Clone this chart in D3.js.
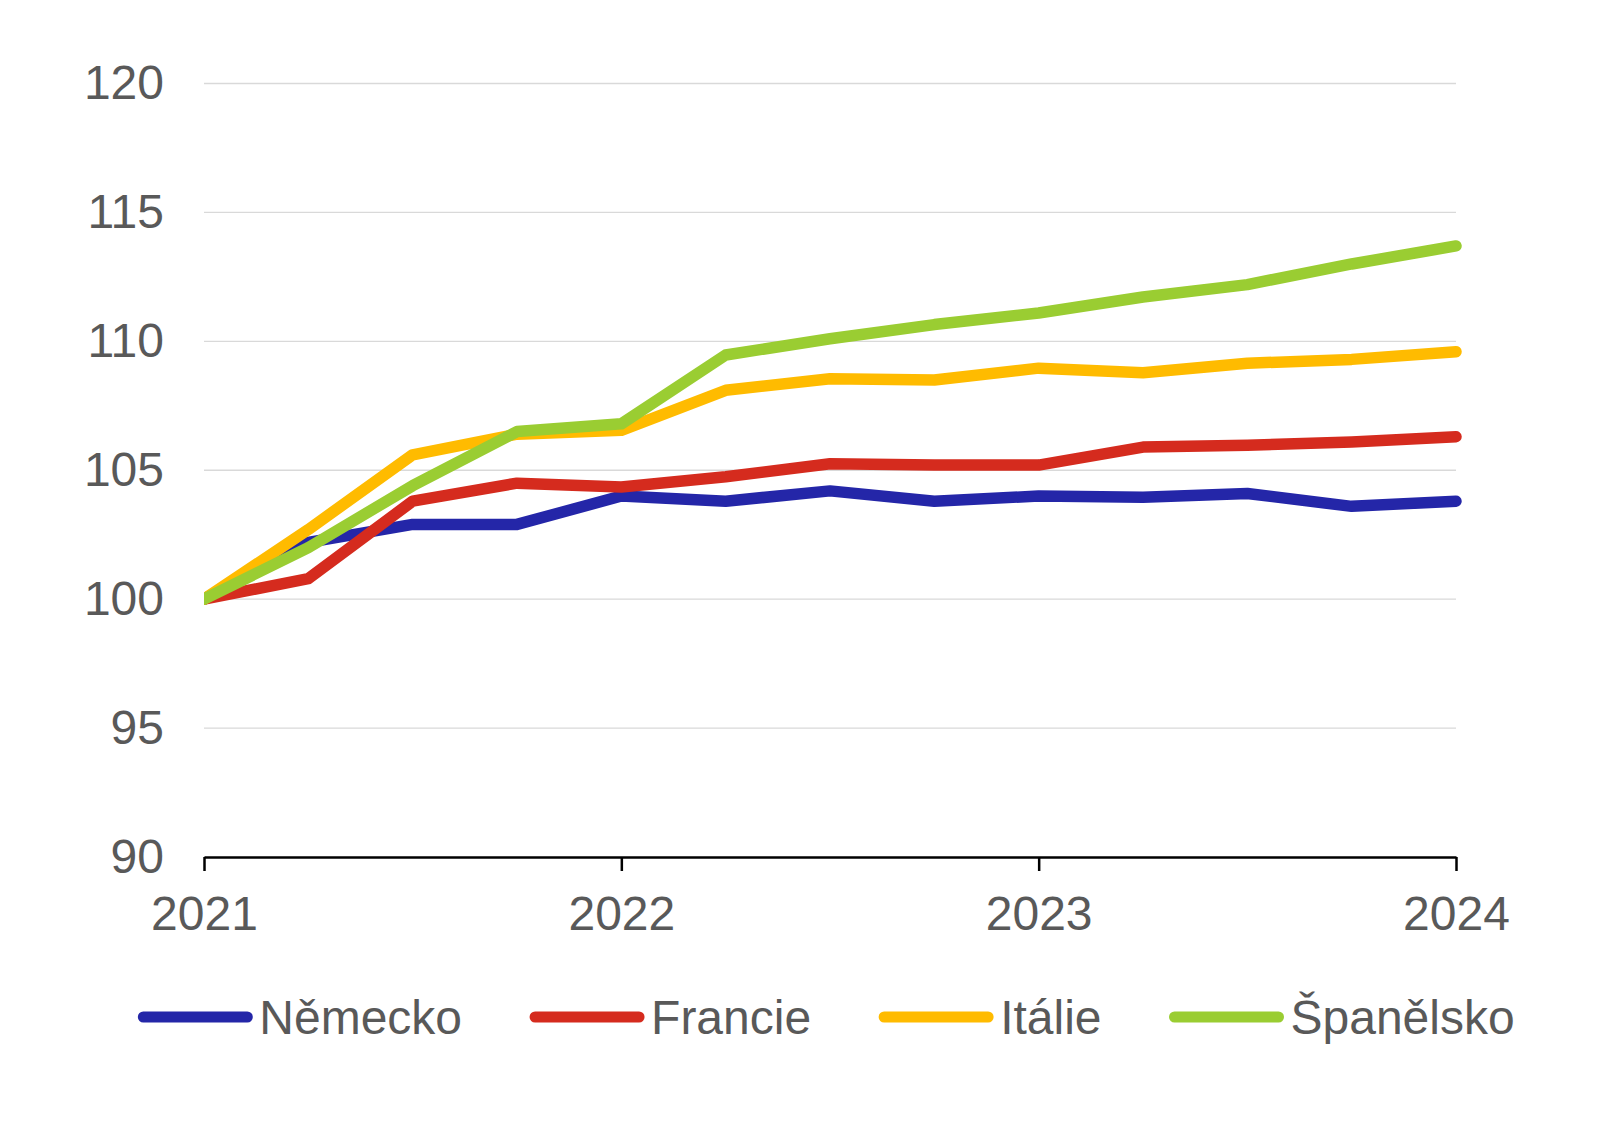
<!DOCTYPE html>
<html>
<head>
<meta charset="utf-8">
<script src="https://cdn.jsdelivr.net/npm/d3@7"></script>
<style>
  body { margin: 0; background: #fff; }
  text { font-family: "Liberation Sans", Arial, sans-serif; fill: #595959; }
</style>
</head>
<body>
<div id="chart"></div>
<script>
// quarterly index, 2021 Q1 = 100
var quarters = ["2021Q1","2021Q2","2021Q3","2021Q4","2022Q1","2022Q2","2022Q3","2022Q4",
                "2023Q1","2023Q2","2023Q3","2023Q4","2024Q1"];
var yearTicks = ["2021", "2022", "2023", "2024"];
var yTicks = [90, 95, 100, 105, 110, 115, 120];

var nemecko   = [100, 102.2, 102.9, 102.9, 104.0, 103.8, 104.2, 103.8, 104.0, 103.95, 104.1, 103.6, 103.8];
var francie   = [100, 100.8, 103.8, 104.5, 104.35, 104.75, 105.25, 105.2, 105.2, 105.9, 105.97, 106.1, 106.3];
var italie    = [100, 102.7, 105.6, 106.4, 106.55, 108.1, 108.55, 108.5, 108.96, 108.78, 109.15, 109.3, 109.6];
var spanelsko = [100, 102.0, 104.4, 106.5, 106.8, 109.47, 110.1, 110.65, 111.1, 111.72, 112.2, 113.0, 113.7];

var seriesNames = ["Německo", "Francie", "Itálie", "Španělsko"];
var seriesValues = [nemecko, francie, italie, spanelsko];
var colors = ["#2426A8", "#D52B1E", "#FFBB00", "#9ACD32"];

var w = 1617, h = 1125;
var margin = { top: 83.5, right: 161, bottom: 268, left: 204 };
var innerW = w - margin.left - margin.right;
var innerH = h - margin.top - margin.bottom;

var svg = d3.select("#chart")
    .append("svg")
    .attr("width", w)
    .attr("height", h);

// lines start flat at the left edge of the plot
svg.append("defs").append("clipPath")
    .attr("id", "plotClip")
    .append("rect")
    .attr("x", 0).attr("y", -40)
    .attr("width", innerW + 20).attr("height", innerH + 80);

var g = svg.append("g")
    .attr("transform", "translate(" + margin.left + "," + margin.top + ")");

var xScale = d3.scalePoint()
    .domain(quarters)
    .range([0, innerW]);

var yScale = d3.scaleLinear()
    .domain([90, 120])
    .range([innerH, 0]);

// gridlines
g.selectAll(".grid")
    .data(yTicks.filter(d => d > 90))
    .enter()
    .append("line")
    .attr("x1", 0)
    .attr("x2", innerW)
    .attr("y1", d => yScale(d))
    .attr("y2", d => yScale(d))
    .attr("stroke", "#d9d9d9")
    .attr("stroke-width", 1.3);

// y labels
var yAxis = d3.axisLeft(yScale).tickValues(yTicks).tickSize(0).tickPadding(40);
var yg = g.append("g").call(yAxis);
yg.select(".domain").remove();
yg.selectAll("text")
    .attr("font-size", "48px")
    .style("font-family", "'Liberation Sans', Arial, sans-serif")
    .attr("fill", "#595959");

// x axis, ticks only at year starts
var yearQuarter = yearTicks.map(y => y + "Q1");
var xAxis = d3.axisBottom(xScale)
    .tickValues(yearQuarter)
    .tickFormat(d => d.slice(0, 4))
    .tickSizeInner(14)
    .tickSizeOuter(0)
    .tickPadding(25);
var xg = g.append("g")
    .attr("transform", "translate(0," + innerH + ")")
    .call(xAxis);
xg.select(".domain").attr("stroke", "#000").attr("stroke-width", 2.5);
xg.selectAll(".tick line").attr("stroke", "#000").attr("stroke-width", 2.5);
xg.selectAll("text")
    .attr("font-size", "48px")
    .style("font-family", "'Liberation Sans', Arial, sans-serif")
    .attr("fill", "#595959");

// lines
var line = d3.line()
    .x((d, i) => xScale(quarters[i]))
    .y(d => yScale(d));

g.append("g")
    .attr("clip-path", "url(#plotClip)")
    .selectAll(".series")
    .data(seriesValues)
    .enter()
    .append("path")
    .attr("d", d => line(d))
    .attr("fill", "none")
    .attr("stroke", (d, i) => colors[i])
    .attr("stroke-width", 11.5)
    .attr("stroke-linejoin", "round")
    .attr("stroke-linecap", "round");

// legend
var legend = svg.append("g").attr("transform", "translate(0,1017)");
var swatchW = 104, swatchGap = 12, itemGap = 73;
var items = legend.selectAll(".item")
    .data(seriesNames)
    .enter()
    .append("g");
items.append("line")
    .attr("x1", 0).attr("x2", swatchW)
    .attr("y1", 0).attr("y2", 0)
    .attr("stroke", (d, i) => colors[i])
    .attr("stroke-width", 11)
    .attr("stroke-linecap", "round");
items.append("text")
    .attr("x", swatchW + swatchGap)
    .attr("dy", "0.35em")
    .attr("font-size", "48px")
    .text(d => d);

var widths = [];
items.each(function () { widths.push(swatchW + swatchGap + d3.select(this).select("text").node().getComputedTextLength()); });
var total = d3.sum(widths) + itemGap * (widths.length - 1);
var xPos = 829 - total / 2;
items.attr("transform", function (d, i) {
    var t = "translate(" + xPos + ",0)";
    xPos += widths[i] + itemGap;
    return t;
});
</script>
</body>
</html>
